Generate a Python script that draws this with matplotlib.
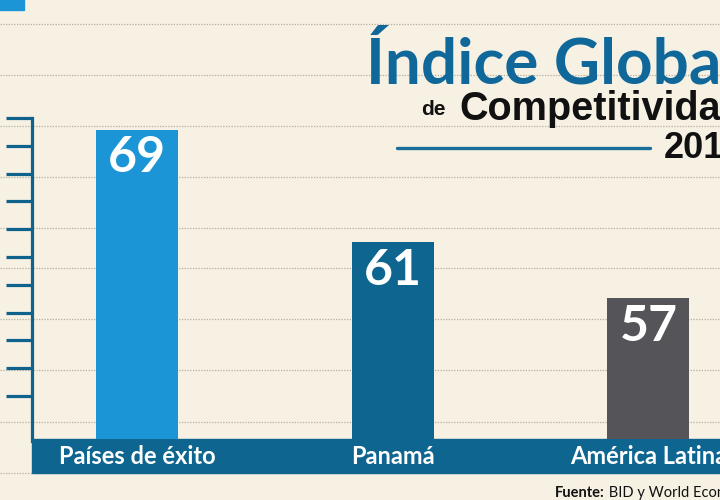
import numpy as np
import matplotlib
matplotlib.use("Agg")
import matplotlib.pyplot as plt
import matplotlib.transforms as mtransforms
from matplotlib.lines import Line2D
from matplotlib.patches import Rectangle

plt.rcParams["font.family"] = ["Lato", "DejaVu Sans"]
WIDE = ["Liberation Sans", "DejaVu Sans"]

# ---- data ----
categories = ["Países de éxito", "Panamá", "América Latina"]
values = [69, 61, 57]
bar_colors = ["#1b95d6", "#0d6590", "#545459"]
source_bold = "Fuente:"
source_rest = " BID y World Economic Forum"

BG = "#f6f1e3"
BAND = "#0d6590"
AXIS_BLUE = "#0e628b"
TITLE_BLUE = "#10689a"

W, H = 720, 500
fig = plt.figure(figsize=(W / 100, H / 100), dpi=100, facecolor=BG)

# pixel helpers (layout only)
base_px, px_per_unit, base_val = 439, 14.05, 46.98


def yv(py):
    return base_val + (base_px - py) / px_per_unit


def fx(px):
    return px / W


def fy(py):
    return 1 - py / H


# background rules and bottom band (behind the axes)
for py in [24, 75, 126, 177, 228, 268, 319, 370, 422, 473]:
    fig.add_artist(Line2D([0, 1], [fy(py), fy(py)], color="#b3ae9f", lw=0.9,
                          ls=(0, (1, 1.2)), zorder=-2))
fig.add_artist(Rectangle((fx(32), fy(473)), 1 - fx(32), (473 - base_px) / H,
                         color=BAND, transform=fig.transFigure, zorder=-1))

ax = fig.add_axes([0, fy(base_px), 1, base_px / H])
ax.patch.set_visible(False)
x0_px, step_px = 137, 255.75
ax.set_xlim(-x0_px / step_px, (W - x0_px) / step_px)
ax.set_ylim(base_val, yv(0))

x = np.arange(len(categories))
ax.bar(x, values, width=82 / step_px, color=bar_colors, zorder=2)

for xi, v in zip(x, values):
    ax.annotate(str(v), (xi, v), xytext=(0, -4), textcoords="offset points",
                ha="center", va="top", color="white", fontsize=36,
                fontweight="bold", zorder=3)

lab_tr = mtransforms.blended_transform_factory(ax.transData, fig.transFigure)
for xi, c in zip(x, categories):
    ax.text(xi, fy(456), c, transform=lab_tr, ha="center", va="center",
            color="white", fontsize=17, fontweight="bold", zorder=3,
            clip_on=False)

# left decorative axis
for s in ["top", "right", "bottom"]:
    ax.spines[s].set_visible(False)
ax.spines["left"].set_position(("axes", 32 / W))
ax.spines["left"].set_color(AXIS_BLUE)
ax.spines["left"].set_linewidth(2.3)
ax.spines["left"].set_bounds(yv(441), yv(118))
ax.spines["left"].set_zorder(3)
tick_px = np.linspace(118, 396, 11)
ax.set_yticks([yv(p) for p in tick_px])
ax.tick_params(axis="y", direction="out", length=19, width=2.3,
               color=AXIS_BLUE, labelleft=False)
ax.set_xticks([])

# title block
fig.text(fx(366), fy(83), "Índice Global", color=TITLE_BLUE, fontsize=46,
         fontweight="bold", va="baseline", ha="left")
fig.text(fx(421), fy(115), "de", color="#111111", fontsize=15,
         fontweight="bold", va="baseline", ha="left", family=WIDE)
fig.text(fx(459), fy(120), "Competitividad", color="#111111", fontsize=28.5,
         fontweight="bold", va="baseline", ha="left", family=WIDE)
fig.text(fx(664), fy(158), "2015", color="#111111", fontsize=26,
         fontweight="bold", va="baseline", ha="left", family=WIDE)
fig.add_artist(Line2D([fx(397), fx(650)], [fy(148), fy(148)], color="#1a6d99",
                      lw=2.4, solid_capstyle="round"))
fig.add_artist(Rectangle((0, fy(10)), fx(24), 10 / H, color="#1b95d6",
                         transform=fig.transFigure))

# source
t = fig.text(fx(555), fy(497), source_bold, color="#111111", fontsize=10.5,
             fontweight="bold", va="baseline", ha="left")
fig.canvas.draw()
bb = t.get_window_extent()
fig.text(bb.x1 / W, fy(497), source_rest, color="#111111", fontsize=10.5,
         va="baseline", ha="left")

fig.savefig("out.png", dpi=100, facecolor=BG)
